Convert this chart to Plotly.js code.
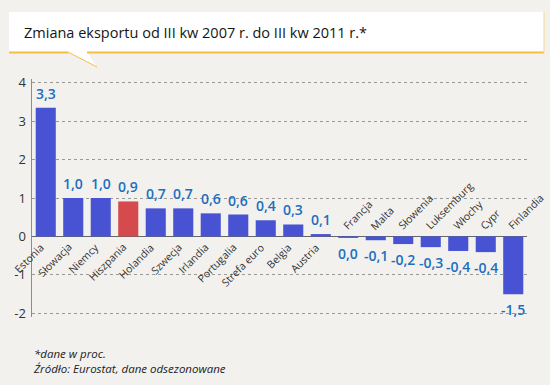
<!DOCTYPE html>
<html>
<head>
<meta charset="utf-8">
<script src="https://cdn.plot.ly/plotly-3.0.1.min.js"></script>
<style>
html,body{margin:0;padding:0;background:#f3f1ee;}
#chart{width:550px;height:385px;}
</style>
</head>
<body>
<div id="chart"></div>
<script>
var categories = ["Estonia","Słowacja","Niemcy","Hiszpania","Holandia","Szwecja","Irlandia","Portugalia","Strefa euro","Belgia","Austria","Francja","Malta","Słowenia","Luksemburg","Włochy","Cypr","Finlandia"];
var values = [3.35, 1.0, 1.0, 0.91, 0.73, 0.73, 0.6, 0.57, 0.42, 0.31, 0.06, -0.04, -0.1, -0.2, -0.28, -0.38, -0.41, -1.51];
var valueLabels = ["3,3","1,0","1,0","0,9","0,7","0,7","0,6","0,6","0,4","0,3","0,1","0,0","-0,1","-0,2","-0,3","-0,4","-0,4","-1,5"];
var highlight = "Hiszpania";
var yTicks = [-2,-1,0,1,2,3,4];
var titleText = "Zmiana eksportu od III kw 2007 r. do III kw 2011 r.*";
var noteText = "<i>*dane w proc.<br>Źródło: Eurostat, dane odsezonowane</i>";

// plot-area pixel geometry helpers (for paper-ref decorations)
var L = 32, R = 527, T = 79, B = 317;
function px(x){ return (x - L) / (R - L); }
function py(y){ return (B - y) / (B - T); }

var colors = categories.map(function(c){ return c === highlight ? "#d44a4d" : "#4753d3"; });

var trace = {
  type: "bar",
  x: categories.map(function(c, i){ return i; }),
  y: values,
  cliponaxis: false,
  marker: {color: colors, line: {width: 0}},
  width: 0.73,
  hoverinfo: "none"
};

var annotations = [];
categories.forEach(function(c, i){
  var pos = values[i] >= 0;
  annotations.push({
    xref: "x", yref: "y", x: i, y: 0,
    text: c, showarrow: false, textangle: -45,
    xanchor: pos ? "right" : "left",
    yanchor: pos ? "top" : "bottom",
    xshift: pos ? 4 : -11, yshift: pos ? -1 : 1,
    font: {family: "Open Sans, sans-serif", size: 10.5, color: "#333"}
  });
  annotations.push({
    xref: "x", yref: "y", x: i, y: values[i],
    text: valueLabels[i], showarrow: false,
    xanchor: "center", yanchor: pos ? "bottom" : "top",
    yshift: pos ? 4 : -5, borderpad: 0,
    font: {family: "Open Sans, sans-serif", size: 14, color: "#1b6fc2", weight: 600}
  });
});
annotations.push({
  xref: "paper", yref: "paper", x: px(22), y: py(32),
  xanchor: "left", yanchor: "middle", showarrow: false,
  text: titleText,
  font: {family: "Open Sans, sans-serif", size: 14.5, color: "#151515"}
});
annotations.push({
  xref: "paper", yref: "paper", x: px(31), y: py(344),
  xanchor: "left", yanchor: "top", showarrow: false, align: "left",
  text: noteText,
  font: {family: "Open Sans, sans-serif", size: 11.5, color: "#222"}
});

var shapes = [
  {type: "rect", xref: "paper", yref: "paper", x0: px(9), x1: px(544), y0: py(52), y1: py(12),
   fillcolor: "#ffffff", line: {width: 0}, layer: "below"},
  {type: "path", xref: "paper", yref: "paper",
   path: "M" + px(68) + "," + py(52) + " L" + px(97) + "," + py(67) + " L" + px(87) + "," + py(52) + " Z",
   fillcolor: "#ffffff", line: {width: 0}, layer: "below"},
  {type: "line", xref: "paper", yref: "paper", x0: px(9), x1: px(68), y0: py(52.5), y1: py(52.5),
   line: {color: "#f1bf45", width: 2}},
  {type: "line", xref: "paper", yref: "paper", x0: px(87), x1: px(544), y0: py(52.5), y1: py(52.5),
   line: {color: "#f1bf45", width: 2}},
  {type: "line", xref: "paper", yref: "paper", x0: px(68), x1: px(97), y0: py(52), y1: py(67),
   line: {color: "#f1bf45", width: 1}},
  {type: "line", xref: "paper", yref: "paper", x0: px(544), x1: px(544), y0: py(12), y1: py(53),
   line: {color: "#f6d98c", width: 1}}
];

var layout = {
  width: 550, height: 385,
  margin: {l: L, r: 550 - R, t: T, b: 385 - B, pad: 0},
  paper_bgcolor: "#f3f1ee",
  plot_bgcolor: "rgba(0,0,0,0)",
  showlegend: false,
  xaxis: {range: [-0.5, 17.5], showticklabels: false, showgrid: false, zeroline: false,
          ticks: "", fixedrange: true},
  yaxis: {range: [-2.1, 4.1], tickvals: yTicks, ticktext: yTicks.map(String),
          showgrid: true, gridcolor: "#9a9a9a", griddash: "dot", gridwidth: 1,
          zeroline: true, zerolinecolor: "#666", zerolinewidth: 1.5,
          showline: true, linecolor: "#8c8c8c", linewidth: 1.5,
          ticks: "", ticklabelstandoff: 2,
          tickfont: {family: "Open Sans, sans-serif", size: 13, color: "#333"}, fixedrange: true},
  annotations: annotations,
  shapes: shapes
};

Plotly.newPlot("chart", [trace], layout, {displayModeBar: false, staticPlot: true});
</script>
</body>
</html>
